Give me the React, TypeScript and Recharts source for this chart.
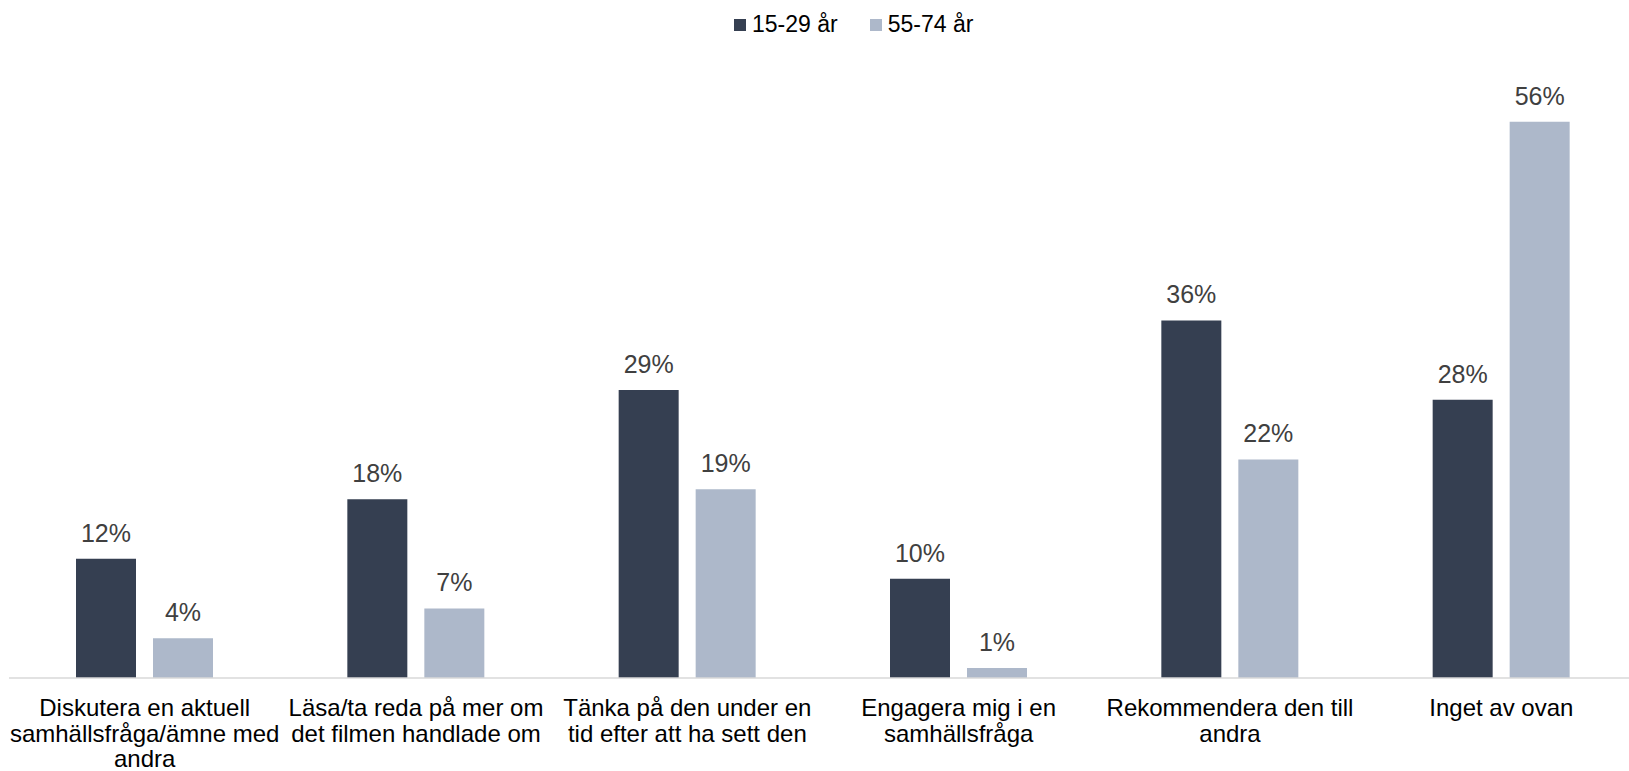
import React from "react";
import { BarChart, Bar, XAxis, YAxis, LabelList } from "recharts";

const categories = [
  "Diskutera en aktuell\nsamhällsfråga/ämne med\nandra",
  "Läsa/ta reda på mer om\ndet filmen handlade om",
  "Tänka på den under en\ntid efter att ha sett den",
  "Engagera mig i en\nsamhällsfråga",
  "Rekommendera den till\nandra",
  "Inget av ovan",
];
const young = [12, 18, 29, 10, 36, 28];
const old = [4, 7, 19, 1, 22, 56];
const seriesNames = ["15-29 år", "55-74 år"];
const colors = ["#353f51", "#adb8ca"];

const data = categories.map((c, i) => ({ name: c, young: young[i], old: old[i] }));

const FONT = "'Liberation Sans', Arial, sans-serif";

function CategoryTick({ x, y, payload }: any) {
  const lines = String(payload.value).split("\n");
  return (
    <text x={x} y={y} textAnchor="middle" fill="#000" fontSize={24} fontFamily={FONT}>
      {lines.map((l, i) => (
        <tspan key={i} x={x} dy={i === 0 ? 38 : 25.5}>
          {l}
        </tspan>
      ))}
    </text>
  );
}

const pct = (v: any) => `${v}%`;

export default function App() {
  return (
    <div
      style={{
        position: "absolute",
        left: 0,
        top: 0,
        width: 1629,
        height: 771,
        overflow: "hidden",
        background: "#fff",
        fontFamily: FONT,
      }}
    >
      <div
        style={{
          position: "absolute",
          left: 734,
          top: 11,
          display: "flex",
          alignItems: "center",
          fontSize: 23,
          color: "#000",
          whiteSpace: "nowrap",
        }}
      >
        {seriesNames.map((n, i) => (
          <span key={n} style={{ display: "flex", alignItems: "center", marginRight: i === 0 ? 32 : 0 }}>
            <span style={{ width: 12, height: 12, background: colors[i], marginRight: 6, display: "inline-block" }} />
            {n}
          </span>
        ))}
      </div>
      <BarChart
        width={1637}
        height={771}
        data={data}
        margin={{ top: 82, right: 0, bottom: 0, left: 9 }}
        barSize={60}
        barGap={17}
        style={{ fontFamily: FONT }}
      >
        <XAxis
          dataKey="name"
          interval={0}
          height={93}
          tickSize={0}
          tickMargin={0}
          tickLine={false}
          axisLine={{ stroke: "#d9d9d9", strokeWidth: 1.5 }}
          tick={<CategoryTick />}
        />
        <YAxis hide domain={[0, 60]} />
        <Bar dataKey="young" name={seriesNames[0]} fill={colors[0]} isAnimationActive={false}>
          <LabelList dataKey="young" position="top" offset={17} formatter={pct} fill="#404040" fontSize={25} fontFamily={FONT} />
        </Bar>
        <Bar dataKey="old" name={seriesNames[1]} fill={colors[1]} isAnimationActive={false}>
          <LabelList dataKey="old" position="top" offset={17} formatter={pct} fill="#404040" fontSize={25} fontFamily={FONT} />
        </Bar>
      </BarChart>
    </div>
  );
}
